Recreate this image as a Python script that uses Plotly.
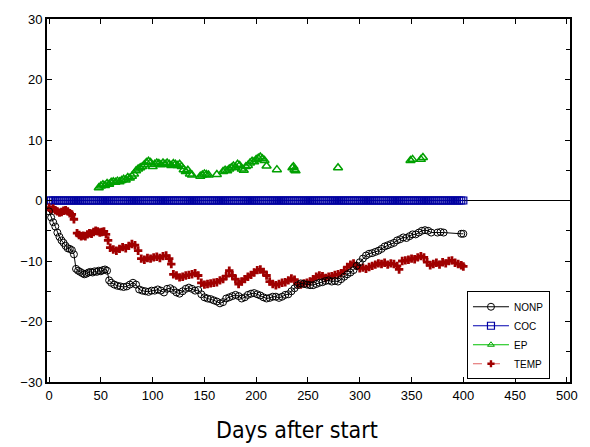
import plotly.graph_objects as go

# ---------------- data ----------------
NONP_days = [0,2,4,6,8,10,12,14,16,18,20,22,24,26,28,30,32,34,36,38,40,42,44,46,48,50,52,54,56,58,60,
             63,66,69,72,75,78,81,84,87,90,93,96,99,102,105,108,111,114,117,120,123,126,129,132,135,138,
             141,144,147,150,153,156,159,162,165,168,171,174,177,180,183,186,189,192,195,198,201,204,207,
             210,213,216,219,222,225,228,231,234,237,240,243,246,249,252,255,258,261,264,267,270,273,276,
             279,282,285,288,291,294,297,300,303,306,309,312,315,318,321,324,327,330,333,336,339,342,345,
             348,351,354,357,360,363,366,369,375,378,381,398,400]
NONP_vals = [-1.8,-2.8,-3.6,-4.3,-5.3,-6.0,-6.6,-7.0,-7.5,-7.9,-8.0,-8.2,-8.9,-11.3,-11.6,-11.8,-12.0,-12.2,
             -12.1,-11.9,-11.8,-11.9,-11.7,-11.8,-11.6,-11.7,-11.5,-11.4,-11.6,-13.2,-13.6,
             -13.9,-14.1,-14.2,-14.3,-14.2,-13.9,-13.6,-13.9,-14.7,-14.9,-15.0,-15.1,-14.9,-14.9,-14.7,-14.9,
             -15.2,-14.6,-14.5,-14.8,-15.2,-15.4,-15.0,-14.6,-14.4,-14.6,
             -14.9,-14.8,-15.5,-16.0,-16.2,-16.3,-16.5,-16.7,-17.0,-16.8,-16.2,-16.0,-15.8,-15.6,-15.8,-16.2,
             -16.0,-15.6,-15.4,-15.3,-15.5,-15.7,-16.0,
             -16.2,-16.1,-15.9,-15.9,-16.1,-15.9,-15.6,-15.5,-15.0,-14.5,-14.0,-13.7,-13.8,-13.9,-14.0,-14.0,
             -13.8,-13.6,-13.5,-13.3,-13.2,-13.4,-13.3,
             -13.4,-13.0,-12.6,-12.2,-11.9,-11.5,-10.8,-10.2,-9.6,-9.1,-8.8,-8.7,-8.5,-8.3,-8.0,-7.6,-7.4,
             -7.2,-7.0,-6.6,-6.4,-6.1,-6.2,
             -5.9,-5.6,-5.6,-5.3,-5.0,-4.9,-5.0,-5.3,-5.3,-5.2,-5.3,-5.5,-5.5]

COC_days = list(range(0, 401, 2))
COC_vals = [0.0] * len(COC_days)

EP_days = [48,50,52,54,56,58,60,62,64,66,68,70,72,74,76,78,80,82,84,86,88,90,92,94,96,98,100,102,104,
           106,108,110,112,114,116,118,120,122,124,126,128,130,132,134,136,138,146,148,150,152,154,162,
           168,170,172,174,176,178,180,182,184,186,188,190,192,194,196,198,200,202,204,206,208,210,220,
           235,236,237,238,279,349,351,359,361]
EP_vals = [2.1,2.4,2.6,2.5,2.8,2.7,3.0,3.1,3.0,3.2,3.1,3.3,3.5,3.4,3.8,3.7,4.0,4.4,4.9,5.2,5.4,5.6,5.9,
           6.3,6.5,6.3,5.6,6.0,6.2,
           6.1,5.9,6.2,6.0,6.2,6.0,5.8,6.1,6.0,5.8,6.0,5.6,5.1,4.8,5.0,4.4,4.2,4.0,4.2,4.4,4.3,4.2,4.3,
           4.8,5.0,4.9,5.2,5.4,5.7,5.5,6.0,5.8,5.2,5.0,5.6,5.8,6.2,6.5,6.4,6.8,7.0,7.2,6.9,6.6,5.7,5.1,
           5.4,5.6,5.1,4.9,5.4,6.6,6.8,6.8,7.1]

TEMP_days = [0,2,4,6,8,10,12,14,16,18,20,22,24,27,29,31,33,35,37,39,41,43,45,47,49,51,53,55,57,59,62,
             65,68,71,74,77,80,83,86,89,92,95,98,101,104,107,110,113,116,118,120,123,126,129,132,135,
             138,141,144,147,150,153,156,159,162,165,168,171,174,177,180,183,186,189,192,195,198,201,
             204,207,210,213,216,219,222,225,228,231,234,237,240,243,246,249,252,255,258,261,264,267,
             270,273,276,279,282,285,288,291,294,297,300,303,306,309,312,315,318,321,324,327,330,333,
             336,338,341,344,347,350,353,356,359,362,365,368,371,374,377,380,383,386,389,392,395,398,400]
TEMP_vals = [-1.2,-1.5,-1.3,-1.6,-1.8,-2.0,-1.9,-1.7,-1.6,-1.8,-2.1,-2.3,-3.1,-5.4,-5.7,-5.9,-5.8,-5.9,
             -5.6,-5.4,-5.5,-5.2,-5.0,-5.1,-5.3,-5.2,-5.1,-5.6,-6.6,-7.8,-8.1,
             -8.3,-8.0,-7.7,-7.9,-7.5,-7.2,-7.4,-8.3,-9.6,-9.8,-9.5,-9.6,-9.4,-9.3,-9.5,-9.2,-9.1,-9.6,
             -10.5,-12.2,-12.4,-12.7,-12.6,-12.4,-12.3,
             -12.2,-12.0,-12.4,-13.6,-13.9,-13.8,-13.7,-13.6,-13.5,-13.2,-13.0,-12.5,-11.6,-12.4,-13.0,
             -13.8,-13.4,-13.0,-12.6,-12.3,-11.9,-11.5,
             -11.4,-11.8,-12.4,-13.4,-13.8,-14.0,-13.8,-13.6,-13.5,-13.2,-12.9,-13.1,-13.8,-13.9,-13.7,
             -13.6,-13.4,-13.0,-12.6,-12.4,-12.5,-12.8,
             -12.6,-12.5,-12.3,-12.2,-12.0,-11.6,-11.0,-10.6,-10.4,-10.8,-11.2,-11.1,-11.3,-11.0,-10.8,
             -10.6,-10.4,-10.5,-10.3,-10.6,-10.4,-10.5,
             -10.8,-11.4,-10.0,-9.9,-9.8,-9.6,-9.7,-9.4,-9.2,-9.4,-10.2,-10.7,-10.5,-10.3,-10.6,-10.2,
             -10.4,-10.0,-9.9,-10.3,-10.5,-10.7,-10.9]

X_TICKS = [0, 50, 100, 150, 200, 250, 300, 350, 400, 450, 500]
Y_TICKS = [-30, -20, -10, 0, 10, 20, 30]
X_TITLE = "Days after start"

# ---------------- figure ----------------
fig = go.Figure()

fig.add_trace(go.Scatter(
    x=COC_days, y=COC_vals, name="COC", mode="lines+markers",
    line=dict(color="#0000b0", width=1),
    marker=dict(symbol="square-open", size=7, color="#0000a0", line=dict(width=1.2)),
))
fig.add_trace(go.Scatter(
    x=EP_days, y=EP_vals, name="EP", mode="markers", showlegend=False,
    marker=dict(symbol="triangle-up-open", size=8, color="#00a000", line=dict(width=1.5)),
))
fig.add_trace(go.Scatter(
    x=TEMP_days, y=TEMP_vals, name="TEMP", mode="markers", showlegend=False,
    marker=dict(symbol="cross", size=7, color="#a00000", line=dict(width=0)),
))
fig.add_trace(go.Scatter(
    x=NONP_days, y=NONP_vals, name="NONP", mode="lines+markers",
    line=dict(color="black", width=1),
    marker=dict(symbol="circle-open", size=7, color="black", line=dict(width=1)),
))

# legend-only entries
fig.add_trace(go.Scatter(
    x=[None], y=[None], name="EP", mode="lines+markers",
    line=dict(color="#00c000", width=1),
    marker=dict(symbol="triangle-up-open", size=6, color="#00a000"),
))
fig.add_trace(go.Scatter(
    x=[None], y=[None], name="TEMP", mode="lines+markers",
    line=dict(color="#e06060", width=1, dash="dash"),
    marker=dict(symbol="cross", size=6, color="#a00000"),
))

tickfont = dict(family="Liberation Sans, Arial, sans-serif", size=13, color="black")

fig.update_layout(
    width=590, height=447,
    margin=dict(l=47, r=20, t=15, b=65),
    paper_bgcolor="white", plot_bgcolor="white",
    showlegend=True,
    legend=dict(
        x=0.803, y=0.25, xanchor="left", yanchor="top",
        bgcolor="white", bordercolor="black", borderwidth=1,
        font=dict(family="Liberation Sans, Arial, sans-serif", size=10, color="black"),
        traceorder="normal", tracegroupgap=0, itemwidth=36,
    ),
    xaxis=dict(
        range=[-2, 503], tickvals=X_TICKS, ticktext=[str(v) for v in X_TICKS],
        ticks="inside", ticklen=5, tickcolor="black", tickwidth=1,
        showline=True, linecolor="black", linewidth=2, mirror="ticks",
        showgrid=False, zeroline=False, tickfont=tickfont,
    ),
    yaxis=dict(
        range=[-30, 30], tickvals=Y_TICKS,
        ticks="inside", ticklen=5, tickcolor="black", tickwidth=1,
        minor=dict(dtick=5, tick0=0, ticks="inside", ticklen=4, tickcolor="black", showgrid=False),
        showline=True, linecolor="black", linewidth=2, mirror="ticks",
        showgrid=False, zeroline=True, zerolinecolor="black", zerolinewidth=1,
        tickfont=tickfont,
    ),
    annotations=[dict(
        text=X_TITLE, xref="paper", yref="paper", x=0.478, y=-0.133,
        xanchor="center", yanchor="middle", showarrow=False,
        font=dict(family="DejaVu Sans Condensed, Liberation Sans, sans-serif", size=23, color="black"),
    )],
)

# reorder legend: NONP, COC, EP, TEMP
fig.data[0].legendrank = 2
fig.data[3].legendrank = 1
fig.data[4].legendrank = 3
fig.data[5].legendrank = 4

fig.write_html("out.html")
